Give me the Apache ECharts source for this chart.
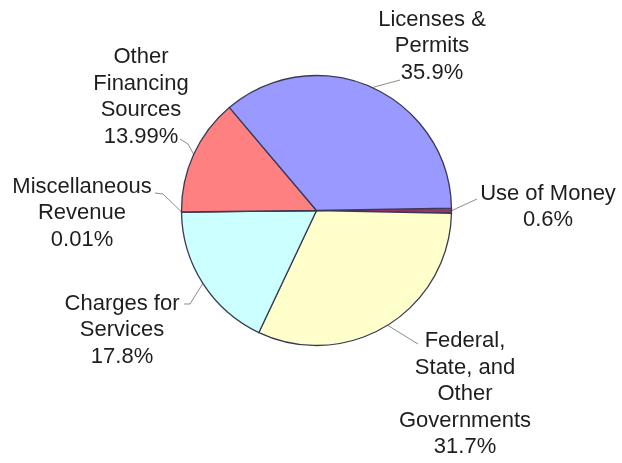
<!DOCTYPE html>
<html>
<head>
<meta charset="utf-8">
<script src="https://cdn.jsdelivr.net/npm/echarts@6/dist/echarts.min.js"></script>
<style>
html,body{margin:0;padding:0;background:#fff;}
#chart{width:622px;height:463px;}
</style>
</head>
<body>
<div id="chart"></div>
<script>
// Data (clockwise from 3 o'clock)
const categories = ['Use of Money', 'Federal, State, and Other Governments', 'Charges for Services', 'Miscellaneous Revenue', 'Other Financing Sources', 'Licenses & Permits'];
const labelNames = ['Use of Money', 'Federal,\nState, and\nOther\nGovernments', 'Charges for\nServices', 'Miscellaneous\nRevenue', 'Other\nFinancing\nSources', 'Licenses &\nPermits'];
const values = [0.6, 31.7, 17.8, 0.01, 13.99, 35.9];
const colors = ['#993366', '#FFFFCC', '#CCFFFF', '#663366', '#FF8080', '#9999FF'];

// Label layout (text block centers and leader-line knee / end points)
const labelCenters = [[548, 207], [465, 394], [122, 330], [82, 213], [141, 97], [432, 46]];
const lineKnees = [[477, 199], [418, 344], [190, 304], [163, 194], [188, 144], [400, 80]];
const lineEnds = [[477, 199], [418, 344], [184, 304], [155, 193], [180, 139], [400, 80]];

const chart = echarts.init(document.getElementById('chart'), null, {renderer: 'canvas'});
chart.setOption({
  animation: false,
  backgroundColor: '#ffffff',
  series: [{
    type: 'pie',
    center: [316.5, 210.5],
    radius: [0, 135],
    startAngle: 1,
    clockwise: true,
    avoidLabelOverlap: false,
    minShowLabelAngle: 0,
    data: categories.map((c, i) => ({
      name: c,
      value: values[i],
      itemStyle: {color: colors[i]}
    })),
    itemStyle: {borderColor: '#3a3a55', borderWidth: 1.3},
    label: {
      show: true,
      position: 'outside',
      formatter: p => labelNames[p.dataIndex] + '\n' + values[p.dataIndex] + '%',
      fontFamily: 'Liberation Sans, Arial, sans-serif',
      fontSize: 22,
      lineHeight: 26.5,
      color: '#1e1e1e',
      align: 'center'
    },
    labelLine: {
      show: true,
      length: 10,
      length2: 10,
      lineStyle: {color: '#8c8c8c', width: 1}
    },
    emphasis: {disabled: true},
    labelLayout: function (params) {
      const i = params.dataIndex;
      const c = labelCenters[i];
      const start = params.labelLinePoints ? params.labelLinePoints[0] : lineKnees[i];
      return {
        x: c[0],
        y: c[1],
        align: 'center',
        verticalAlign: 'middle',
        labelLinePoints: [start, lineKnees[i], lineEnds[i]]
      };
    }
  }]
});
</script>
</body>
</html>
